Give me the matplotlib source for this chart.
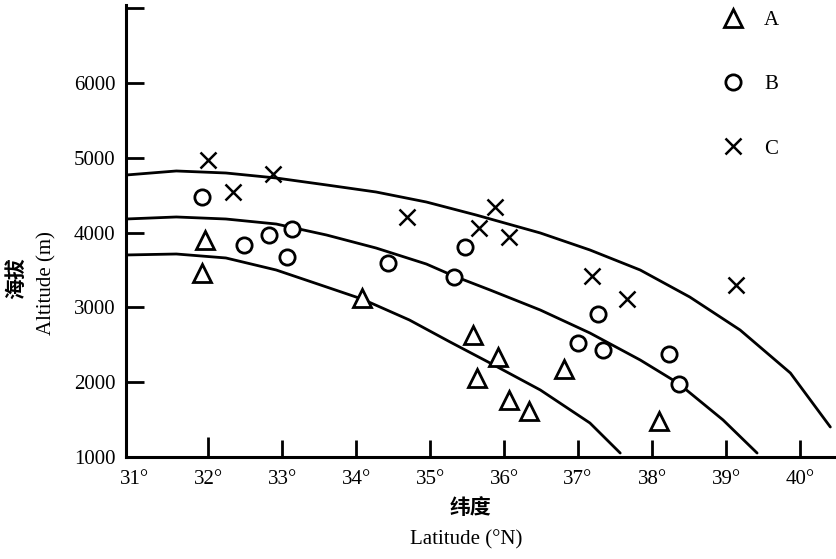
import matplotlib
matplotlib.use("Agg")
import matplotlib.pyplot as plt

# ---- data ----
lat_A = [31.92, 31.96, 34.08, 35.58, 35.92, 35.64, 36.07, 36.34, 36.81, 38.09]
alt_A = [3460, 3900, 3126, 2631, 2337, 2056, 1762, 1615, 2177, 1481]

lat_B = [31.92, 32.49, 32.82, 33.14, 33.07, 34.43, 35.47, 35.32, 37.27, 37.00, 37.34, 38.23, 38.36]
alt_B = [4476, 3834, 3968, 4048, 3674, 3594, 3808, 3407, 2912, 2524, 2431, 2377, 1976]

lat_C = [32.00, 32.34, 32.88, 34.69, 35.88, 35.66, 36.07, 37.19, 37.66, 39.14]
alt_C = [4971, 4543, 4784, 4209, 4342, 4062, 3941, 3420, 3112, 3300]

# boundary curves
curve_A_lat = [30.89, 31.57, 32.24, 32.92, 33.60, 34.08, 34.72, 35.27, 35.81, 36.49, 37.16, 37.57]
curve_A_alt = [3701, 3714, 3661, 3500, 3273, 3112, 2832, 2538, 2257, 1896, 1455, 1053]

curve_B_lat = [30.89, 31.57, 32.24, 32.92, 33.60, 34.27, 34.95, 35.32, 35.81, 36.49, 37.16, 37.84, 38.35, 38.96, 39.42]
curve_B_alt = [4182, 4209, 4182, 4115, 3968, 3794, 3580, 3420, 3233, 2965, 2658, 2297, 1989, 1495, 1053]

curve_C_lat = [30.89, 31.57, 32.24, 32.92, 33.60, 34.27, 34.95, 35.62, 36.49, 37.16, 37.84, 38.51, 39.19, 39.87, 40.41]
curve_C_alt = [4770, 4824, 4797, 4730, 4637, 4543, 4409, 4236, 3995, 3768, 3500, 3139, 2698, 2123, 1401]

xtick_vals = [31, 32, 33, 34, 35, 36, 37, 38, 39, 40]
xtick_labels = ["31°", "32°", "33°", "34°", "35°", "36°", "37°", "38°", "39°", "40°"]
ytick_vals = [1000, 2000, 3000, 4000, 5000, 6000, 7000]
ytick_labels = ["1000", "2000", "3000", "4000", "5000", "6000", ""]
series_labels = ["A", "B", "C"]

# ---- figure ----
W, H = 837, 559
fig = plt.figure(figsize=(W / 100, H / 100), dpi=100)
fig.patch.set_facecolor("white")
ax = fig.add_axes([126 / W, (H - 457) / H, (W - 126) / W, (457 - 5) / H])
ax.set_facecolor("white")

serif = ["Liberation Serif", "DejaVu Serif"]
cjk = ["Noto Sans CJK SC", "DejaVu Sans"]

lw = 2.0
for cl, ca in [(curve_A_lat, curve_A_alt), (curve_B_lat, curve_B_alt), (curve_C_lat, curve_C_alt)]:
    ax.plot(cl, ca, color="black", lw=lw, solid_capstyle="round", solid_joinstyle="round", zorder=2)

hA = ax.plot(lat_A, alt_A, linestyle="none", marker="^", ms=13, mfc="white", mec="black", mew=2.0, zorder=3)[0]
hB = ax.plot(lat_B, alt_B, linestyle="none", marker="o", ms=11, mfc="white", mec="black", mew=2.0, zorder=3)[0]
hC = ax.plot(lat_C, alt_C, linestyle="none", marker="x", ms=11, mec="black", mew=1.8, zorder=3)[0]

ax.set_xlim(30.89, 40.5)
ax.set_ylim(1000, 7043)

for s in ["top", "right"]:
    ax.spines[s].set_visible(False)
for s in ["left", "bottom"]:
    ax.spines[s].set_linewidth(2.2)
    ax.spines[s].set_color("black")

ax.set_xticks(xtick_vals)
ax.set_xticklabels(xtick_labels, fontfamily=serif, fontsize=15)
ax.set_yticks(ytick_vals)
ax.set_yticklabels(ytick_labels, fontfamily=serif, fontsize=15)
ax.tick_params(axis="x", direction="in", length=12, width=2.0, pad=9)
ax.tick_params(axis="y", direction="in", length=13, width=2.0, pad=7.5)
xt = ax.xaxis.get_major_ticks()
xt[0].tick1line.set_visible(False)
xt[1].tick1line.set_markersize(14.5)

# axis titles
fig.text(16 / W, 1 - 278 / H, "海拔", rotation=90, ha="center", va="center",
         fontfamily=cjk, fontsize=15, fontweight="bold")
fig.text(47 / W, 1 - 283 / H, "Altitude (m)", rotation=90, ha="center", va="center",
         fontfamily=serif, fontsize=15)
fig.text(470 / W, 1 - 508 / H, "纬度", ha="center", va="center",
         fontfamily=cjk, fontsize=15, fontweight="bold")
fig.text(466 / W, 1 - 540 / H, "Latitude (°N)", ha="center", va="center",
         fontfamily=serif, fontsize=15)

leg = ax.legend([hA, hB, hC], series_labels, loc="upper left",
                bbox_to_anchor=(710 / W, 1.0), bbox_transform=fig.transFigure,
                frameon=False, prop={"family": serif, "size": 15},
                handlelength=1.2, handletextpad=0.9, labelspacing=2.15, borderpad=0)

fig.savefig("out.png", dpi=100, facecolor="white")
